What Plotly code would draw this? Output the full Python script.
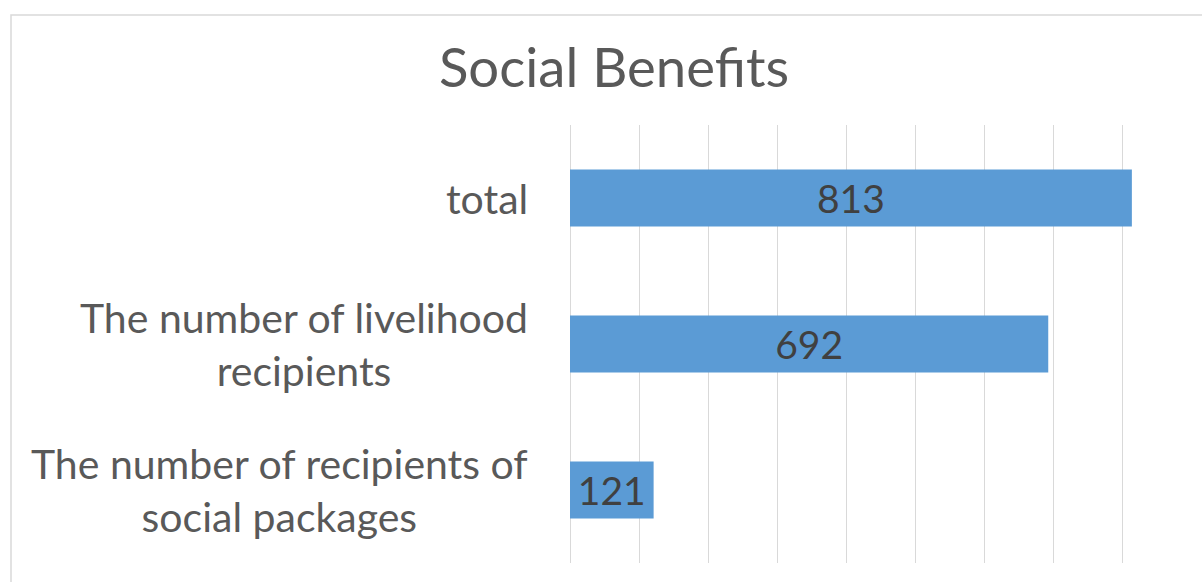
import plotly.graph_objects as go

categories = ["total", "The number of livelihood<br>recipients", "The number of recipients of<br>social packages"]
values = [813, 692, 121]
title_text = "Social Benefits"

FONT = "Lato, 'Open Sans', sans-serif"
W, H = 1202, 582
L, R, T, B = 570, 10, 125, 19
pw = W - L - R
ph = H - T - B

def px_x(p):
    return (p - L) / pw

def px_y(p):
    return (H - B - p) / ph

fig = go.Figure()
fig.add_trace(go.Bar(
    x=values,
    y=categories,
    orientation="h",
    marker=dict(color="#5B9BD5", line=dict(width=0)),
    text=[str(v) for v in values],
    textposition="inside",
    insidetextanchor="middle",
    constraintext="none",
    textfont=dict(family=FONT, size=39, color="#404040"),
    hoverinfo="skip",
))

for c in categories:
    fig.add_annotation(
        x=px_x(530), xref="paper", xanchor="right",
        y=c, yref="y", yanchor="middle",
        text=c, showarrow=False, align="center",
        font=dict(family=FONT, size=41, color="#595959"),
    )

fig.add_shape(
    type="rect", xref="paper", yref="paper",
    x0=px_x(11), x1=px_x(1215), y0=px_y(600), y1=px_y(15),
    line=dict(color="#D9D9D9", width=1.5), fillcolor="rgba(0,0,0,0)", layer="below",
)

fig.update_layout(
    width=W, height=H,
    margin=dict(l=L, r=R, t=T, b=B),
    paper_bgcolor="white", plot_bgcolor="white",
    showlegend=False,
    bargap=0.61,
    title=dict(text=title_text, x=614 / W, xref="container", xanchor="center",
               y=1 - 68 / H, yref="container", yanchor="middle",
               font=dict(family=FONT, size=54.5, color="#595959")),
    xaxis=dict(range=[0, 900], dtick=100, showgrid=True, gridcolor="#D9D9D9", gridwidth=1.2,
               zeroline=True, zerolinecolor="#D9D9D9", zerolinewidth=1.2,
               showticklabels=False, ticks="", showline=False, fixedrange=True),
    yaxis=dict(autorange="reversed", showticklabels=False, ticks="", showgrid=False,
               showline=False, zeroline=False, fixedrange=True),
)

fig.write_html("out.html")
